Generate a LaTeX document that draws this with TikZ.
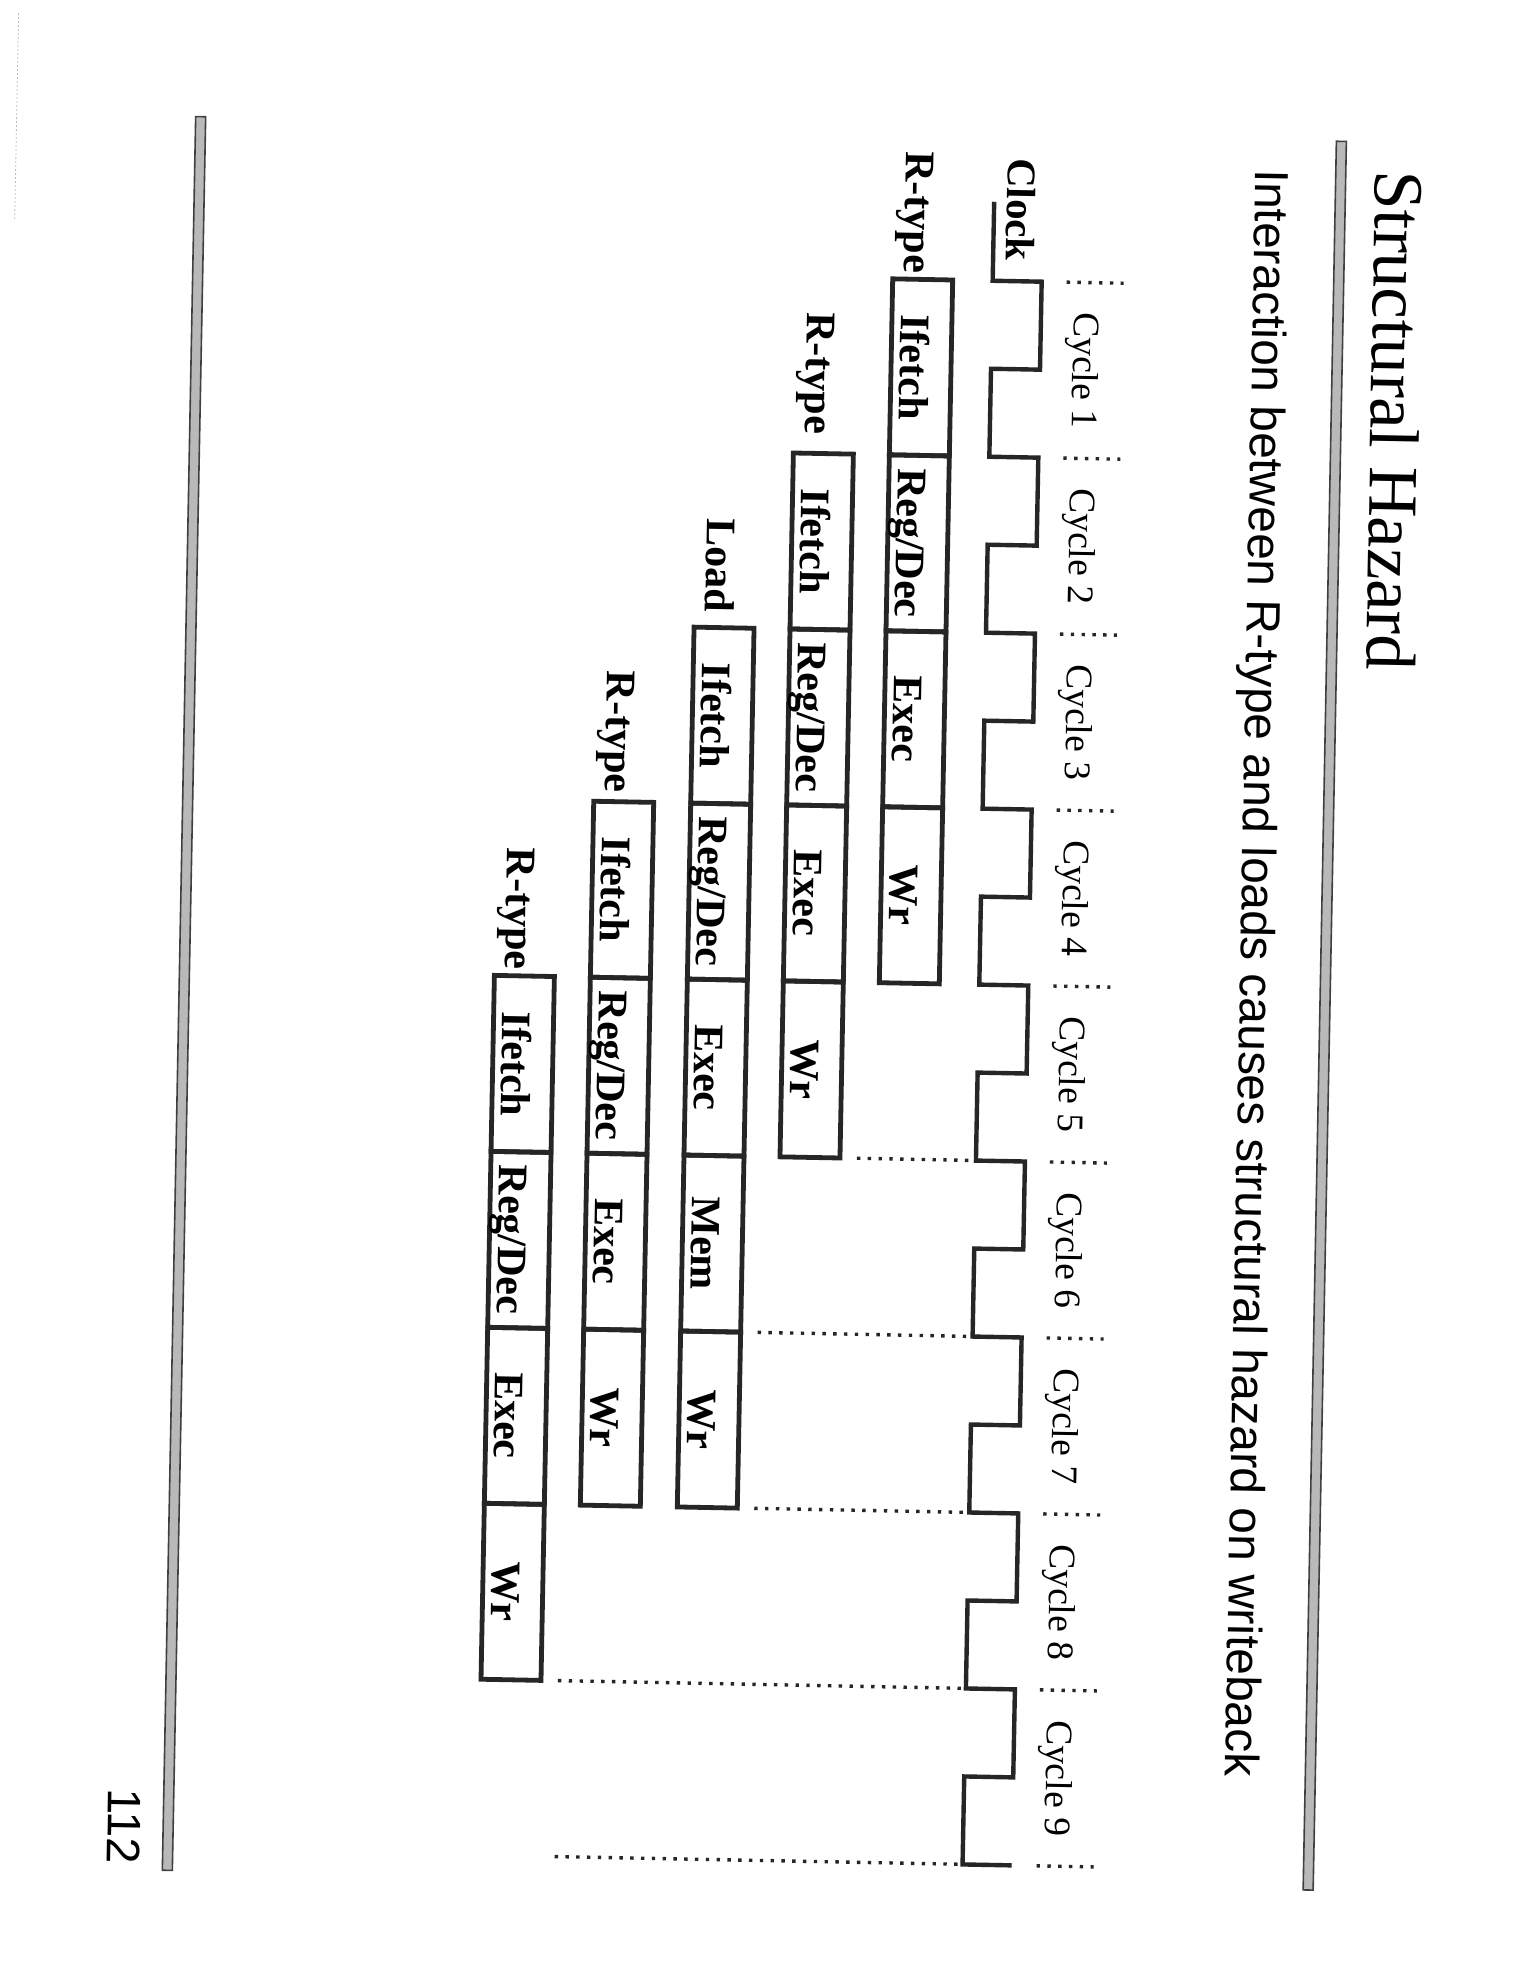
\documentclass[tikz,border=0pt]{standalone}
\usepackage{fontspec}
\setmainfont{Liberation Serif}
\newfontfamily\sansf{Liberation Sans}
\begin{document}
\begin{tikzpicture}[x=0.5pt,y=-0.5pt,
  stage/.style={draw=black!85, line width=2.4pt, rotate=-90, minimum width=88pt, minimum height=30pt,
    inner sep=0pt, outer sep=0pt, text height=21pt, text depth=0pt,
    font=\fontsize{21}{21}\selectfont\bfseries},
  rlabel/.style={rotate=-90, anchor=base east, inner sep=0pt, font=\fontsize{21}{21}\selectfont\bfseries},
  cyc/.style={rotate=-90, anchor=base, inner sep=0pt, font=\fontsize{18.75}{19}\selectfont},
  rtext/.style={rotate=-90, anchor=base west, inner sep=0pt},
  dotl/.style={line width=1.7pt, dash pattern=on 1.7pt off 3.7pt, black!85},
  clk/.style={line width=2.2pt, black!85, line join=miter},
  pline/.style={fill=gray!55, draw=black!75, line width=0.8pt}
]
\useasboundingbox (0,0) rectangle (1530,1980);
\fill[white] (0,0) rectangle (1530,1980);
\begin{scope}[rotate around={-1.09:(1000,1000)}, transform shape]
  % page frame lines
  \filldraw[pline] (179,132) rectangle (189,1886);
  \filldraw[pline] (1320,135) rectangle (1330,1884);
  \draw[gray!50, line width=0.4pt, dash pattern=on 1pt off 1pt] (0,32) -- (0,239);

  % titles
  \node[rtext, font=\fontsize{35.25}{36}\selectfont] (title) at (1360,163) {Structural Hazard};
  \node[rtext, font=\sansf\fontsize{23.9}{24}\selectfont] (sub) at (1240,164)
    {Interaction between R-type and loads causes structural hazard on writeback};
  \node[rtext, font=\sansf\fontsize{23.5}{24}\selectfont] (pg) at (124,1805) {112};

  % clock
  \node[rtext, font=\fontsize{20.4}{21}\selectfont\bfseries] (clkl) at (992,158) {Clock};
  \draw[clk] (979,202) foreach \k in {0,...,8} {
      -- (979,{281+176*\k}) -- (1028,{281+176*\k}) -- (1028,{369+176*\k}) -- (979,{369+176*\k}) }
      -- (979,1865) -- (1028,1865);

  % cycle labels and separators
  \foreach \k in {0,...,9} \draw[dotl] (1053,{281+176*\k}) -- (1110,{281+176*\k});
  \foreach \k in {1,...,9} \node[cyc] (c\k) at (1061,{176*\k+193}) {Cycle \k};

  % row 1
  \node[rlabel] (l1) at (890,275) {R-type};
  \node[stage] (a1) at (909,369) {Ifetch};
  \node[stage] (a2) at (909,545) {Reg/Dec};
  \node[stage] (a3) at (909,721) {Exec};
  \node[stage] (a4) at (909,897) {Wr};
  % row 2
  \node[rlabel] (l2) at (794,438) {R-type};
  \node[stage] (b1) at (813,545) {Ifetch};
  \node[stage] (b2) at (813,721) {Reg/Dec};
  \node[stage] (b3) at (813,897) {Exec};
  \node[stage] (b4) at (813,1073) {Wr};
  % row 3
  \node[rlabel] (l3) at (698,618) {Load};
  \node[stage] (e1) at (717,721) {Ifetch};
  \node[stage] (e2) at (717,897) {Reg/Dec};
  \node[stage] (e3) at (717,1073) {Exec};
  \node[stage] (e4) at (717,1249) {Mem};
  \node[stage] (e5) at (717,1425) {Wr};
  % row 4
  \node[rlabel] (l4) at (601,800) {R-type};
  \node[stage] (f1) at (620,897) {Ifetch};
  \node[stage] (f2) at (620,1073) {Reg/Dec};
  \node[stage] (f3) at (620,1249) {Exec};
  \node[stage] (f4) at (620,1425) {Wr};
  % row 5
  \node[rlabel] (l5) at (505,979) {R-type};
  \node[stage] (g1) at (524,1073) {Ifetch};
  \node[stage] (g2) at (524,1249) {Reg/Dec};
  \node[stage] (g3) at (524,1425) {Exec};
  \node[stage] (g4) at (524,1601) {Wr};

  % long dotted lines to the clock
  \coordinate (k5) at (976,1161);
  \coordinate (k6) at (976,1337);
  \coordinate (k7) at (976,1513);
  \coordinate (k8) at (976,1689);
  \coordinate (k9) at (976,1865);
  \coordinate (d1) at (860,1161);
  \coordinate (d2) at (764,1337);
  \coordinate (d3) at (764,1513);
  \coordinate (d4) at (571,1689);
  \coordinate (d5) at (571,1865);
  \draw[dotl] (d1) -- (k5);
  \draw[dotl] (d2) -- (k6);
  \draw[dotl] (d3) -- (k7);
  \draw[dotl] (d4) -- (k8);
  \draw[dotl] (d5) -- (k9);
\end{scope}
\end{tikzpicture}
\end{document}
